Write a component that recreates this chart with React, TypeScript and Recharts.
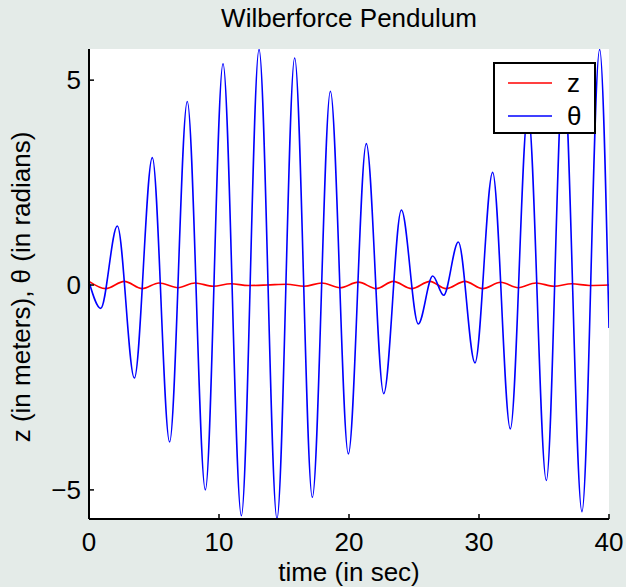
import { LineChart, Line, XAxis, YAxis, CartesianGrid, Legend } from 'recharts';

// theta extrema (time in sec, value in radians)
const THETA_T = [
  0, 0.9, 2.18, 3.49, 4.87, 6.2, 7.56, 8.95, 10.31, 11.72, 13.08, 14.46, 15.82, 17.18, 18.57, 19.95,
  21.33, 22.67, 24.03, 25.33, 26.44, 27.28, 28.41, 29.69, 31.05, 32.41, 33.77, 35.18, 36.5, 37.92, 39.28, 40,
];
const THETA = [
  0.08, -0.57, 1.44, -2.27, 3.11, -3.83, 4.48, -5.0, 5.4, -5.63, 5.75, -5.7, 5.54, -5.18, 4.73, -4.12,
  3.45, -2.65, 1.83, -0.95, 0.22, -0.25, 1.05, -1.9, 2.75, -3.51, 4.25, -4.77, 5.25, -5.53, 5.75, -1.05,
];

// z extrema (time in sec, value in meters)
const Z_T = [
  0, 1.28, 2.72, 4.1, 5.38, 6.85, 8.15, 9.56, 10.9, 12.26, 13.7, 15.2, 16.56, 17.9, 19.3, 20.72,
  22.1, 23.41, 24.82, 26.23, 27.46, 28.92, 30.28, 31.67, 33.02, 34.38, 35.77, 37.13, 38.49, 40,
];
const Z = [
  0.09, -0.088, 0.09, -0.088, 0.05, -0.065, 0.05, -0.03, 0.03, -0.012, 0.0, 0.02, -0.03, 0.05, -0.065, 0.07,
  -0.088, 0.09, -0.088, 0.09, -0.088, 0.09, -0.088, 0.066, -0.065, 0.05, -0.03, 0.03, -0.01, 0.0,
];

const X_TICKS = [0, 10, 20, 30, 40];
const Y_TICKS = [-5, 0, 5];

const thetaData = THETA_T.map((t, i) => ({ t, theta: THETA[i] }));
const zData = Z_T.map((t, i) => ({ t, z: Z[i] }));

const FONT = '"Liberation Sans", Arial, Helvetica, sans-serif';
const BG = '#e4ebe8';
const Y_DOMAIN = [-5.71, 5.76];
const Z_COLOR = '#ff0000';
const THETA_COLOR = '#0000ff';

const fmt = (v: number) => (v < 0 ? '\u2212' + Math.abs(v) : String(v));

function LegendBox({ payload }: any) {
  const items = payload || [];
  return (
    <div
      style={{
        width: 99,
        height: 68,
        border: '2px solid #000',
        background: '#fff',
        fontFamily: FONT,
        fontSize: 26,
        color: '#000',
        position: 'relative',
      }}
    >
      {items.map((p: any, i: number) => {
        const stroke = p.value === 'z' ? Z_COLOR : THETA_COLOR;
        return (
          <div key={p.value} style={{ position: 'absolute', left: 13, top: 4 + i * 33, height: 30, display: 'flex', alignItems: 'center' }}>
            <svg width={44} height={4} style={{ display: 'block' }}>
              <line x1={0} y1={2} x2={44} y2={2} stroke={stroke} strokeWidth={1.5} />
            </svg>
            <span style={{ marginLeft: 15, lineHeight: '30px' }}>{p.value}</span>
          </div>
        );
      })}
    </div>
  );
}

export default function App() {
  return (
    <div style={{ position: 'absolute', left: 0, top: 0, width: 626, height: 587, background: BG, overflow: 'hidden' }}>
      <LineChart width={626} height={587} margin={{ top: 49, right: 17, bottom: 28, left: 29 }}>
        <CartesianGrid fill="#ffffff" horizontal={false} vertical={false} />
        <XAxis
          dataKey="t"
          type="number"
          domain={[0, 40]}
          ticks={X_TICKS}
          allowDataOverflow
          height={40}
          tickSize={-5}
          tickMargin={19}
          axisLine={{ stroke: '#000', strokeWidth: 2 }}
          tickLine={{ stroke: '#000', strokeWidth: 1.5 }}
          tick={{ fill: '#000', fontSize: 26, fontFamily: FONT }}
        />
        <XAxis
          xAxisId="top"
          orientation="top"
          type="number"
          domain={[0, 40]}
          ticks={X_TICKS}
          height={0}
          tickSize={-5}
          tick={false}
          axisLine={{ stroke: '#000', strokeWidth: 2 }}
          tickLine={{ stroke: '#000', strokeWidth: 1.5 }}
        />
        <YAxis
          type="number"
          domain={Y_DOMAIN}
          ticks={Y_TICKS}
          allowDataOverflow
          width={60}
          tickSize={-5}
          tickMargin={13}
          tickFormatter={fmt}
          axisLine={{ stroke: '#000', strokeWidth: 2 }}
          tickLine={{ stroke: '#000', strokeWidth: 1.5 }}
          tick={{ fill: '#000', fontSize: 26, fontFamily: FONT }}
        />
        <YAxis
          yAxisId="right"
          orientation="right"
          type="number"
          domain={Y_DOMAIN}
          ticks={Y_TICKS}
          width={0}
          tickSize={-5}
          tick={false}
          axisLine={{ stroke: '#000', strokeWidth: 2 }}
          tickLine={{ stroke: '#000', strokeWidth: 1.5 }}
        />
        <Line data={zData} dataKey="z" name="z" type="monotone" stroke={Z_COLOR} strokeWidth={1.6} dot={false} isAnimationActive={false} />
        <Line data={thetaData} dataKey="theta" name="θ" type="monotone" stroke={THETA_COLOR} strokeWidth={1.6} dot={false} isAnimationActive={false} />
        <Legend
          layout="horizontal"
          verticalAlign="middle"
          align="center"
          content={<LegendBox />}
          wrapperStyle={{ left: 493, top: 62, width: 103, height: 72 }}
        />
      </LineChart>
      <svg width={626} height={587} style={{ position: 'absolute', left: 0, top: 0, pointerEvents: 'none' }}>
        <text x={349} y={27} textAnchor="middle" fontFamily={FONT} fontSize={26} fill="#000">
          Wilberforce Pendulum
        </text>
        <text x={349} y={581} textAnchor="middle" fontFamily={FONT} fontSize={26} fill="#000">
          time (in sec)
        </text>
        <text x={30} y={287} transform="rotate(-90 30 287)" textAnchor="middle" fontFamily={FONT} fontSize={26} fill="#000">
          z (in meters), θ (in radians)
        </text>
      </svg>
    </div>
  );
}
